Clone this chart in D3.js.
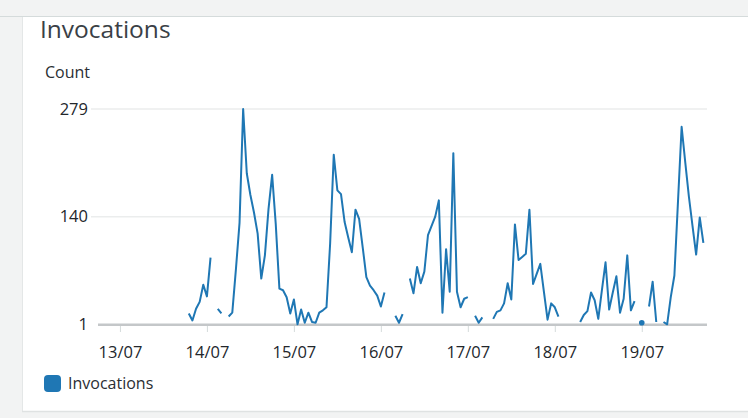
<!DOCTYPE html>
<html>
<head>
<meta charset="utf-8">
<script src="https://cdn.jsdelivr.net/npm/d3@7/dist/d3.min.js"></script>
<style>
  html, body { margin: 0; padding: 0; background: #f2f3f3; }
  svg { display: block; font-family: "Open Sans", "Noto Sans", sans-serif; }
</style>
</head>
<body>
<svg id="chart" width="748" height="418"></svg>
<script>
// Hourly invocation counts, starting 12/07 18:00 (null = no datapoint)
const startTime = Date.UTC(2023, 6, 12, 18);
const endTime = Date.UTC(2023, 6, 19, 18);
const hourlyCounts = [
  null, null, null, null, null, null, null, null, null, null,
  null, null, null, null, null, null, null, null, null, null,
  null, null, null, null, null,
  15, 6, 21, 30, 52, 37, 87,
  null, 21, 15, null,
  11, 16, 72, 132, 279, 196, 168, 145, 118, 60,
  90, 150, 194, 130, 47, 45, 36, 15, 33, 1,
  20, 3, 16, 4, 3, 16, 19, 23, 105, 220,
  174, 169, 133, 113, 94, 149, 137, 100, 62, 51,
  45, 38, 24, 42,
  null, null, 12, 3, 14, null,
  60, 41, 75, 54, 69, 116, 128, 140, 161, 16,
  98, 43, 222, 43, 23, 34, 36,
  null, 12, 3, 10, null, null,
  8, 17, 19, 28, 54, 33, 130, 84, 88, 92,
  149, 53, 66, 79, 43, 7, 28, 23, 11,
  null, null, null, null, null,
  4, 13, 18, 42, 32, 8, 45, 81, 20, 42,
  63, 16, 34, 90, 19, 31,
  null, 3, null,
  24, 56, 4, null,
  4, 1, 36, 64, 160, 256, 210, 166, 128, 91,
  139, 106
];
const yTickValues = [1, 140, 279];
const seriesName = "Invocations";
const unitLabel = "Count";
const lineColor = "#1f77b4";

const HOUR = 3600 * 1000;
const points = hourlyCounts.map((v, i) => ({ t: new Date(startTime + i * HOUR), v }));

const svg = d3.select("#chart");
const W = 748, H = 418;

// Page background and widget card
svg.append("rect").attr("width", W).attr("height", H).attr("fill", "#f2f3f3");
svg.append("line").attr("x1", 0).attr("x2", W).attr("y1", 16.5).attr("y2", 16.5)
  .attr("stroke", "#d5dbdb").attr("stroke-width", 1);
svg.append("rect").attr("x", 22).attr("y", 17).attr("width", W).attr("height", 394)
  .attr("fill", "#ffffff");
svg.append("line").attr("x1", 22.5).attr("x2", 22.5).attr("y1", 17).attr("y2", 411)
  .attr("stroke", "#e4e7e7").attr("stroke-width", 1);
svg.append("line").attr("x1", 22).attr("x2", W).attr("y1", 411.5).attr("y2", 411.5)
  .attr("stroke", "#dfe2e2").attr("stroke-width", 1.5);

// Title and unit
svg.append("text").attr("x", 40).attr("y", 38).attr("font-size", 24.5)
  .attr("fill", "#3a3f46").text(seriesName);
svg.append("text").attr("x", 45).attr("y", 78).attr("font-size", 16)
  .attr("fill", "#2a2e33").text(unitLabel);

// Scales
const x = d3.scaleUtc().domain([startTime, endTime]).range([98.2, 707]);
const y = d3.scaleLinear().domain([1, 279]).range([324.3, 109]);

// Horizontal gridlines
svg.append("g").selectAll("line")
  .data(yTickValues.filter(v => v !== 1))
  .join("line")
  .attr("x1", 91).attr("x2", 707)
  .attr("y1", d => y(d)).attr("y2", d => y(d))
  .attr("stroke", "#ebeded").attr("stroke-width", 1.5);

// Y axis labels
const yAxis = d3.axisLeft(y).tickValues(yTickValues).tickSize(0).tickPadding(0);
svg.append("g").attr("transform", "translate(88,0)").call(yAxis)
  .call(g => g.select(".domain").remove())
  .call(g => g.selectAll("text").attr("font-size", 16.5).attr("fill", "#23272c")
    .attr("font-family", "\"Open Sans\", sans-serif"));

// X axis: baseline, day ticks and labels
const dayTicks = d3.utcDay.range(new Date(startTime), new Date(endTime));
const xAxis = d3.axisBottom(x).tickValues(dayTicks).tickFormat(d3.utcFormat("%d/%m"))
  .tickSize(7).tickPadding(14);
svg.append("g").attr("transform", "translate(0,325)").call(xAxis)
  .call(g => g.select(".domain").remove())
  .call(g => g.selectAll(".tick line").attr("stroke", "#d5dbdb"))
  .call(g => g.selectAll("text").attr("font-size", 16.5).attr("fill", "#23272c")
    .attr("font-family", "\"Open Sans\", sans-serif"));
svg.append("line").attr("x1", 98).attr("x2", 707).attr("y1", y(1) + 0.5).attr("y2", y(1) + 0.5)
  .attr("stroke", "#c4c7c9").attr("stroke-width", 2.5);

// Series line with gaps for missing hours
const line = d3.line()
  .defined(d => d.v !== null)
  .x(d => x(d.t))
  .y(d => y(d.v));
svg.append("path").datum(points)
  .attr("fill", "none").attr("stroke", lineColor).attr("stroke-width", 2)
  .attr("stroke-linejoin", "round").attr("d", line);

// Isolated datapoints are drawn as dots
const isolated = points.filter((d, i) => d.v !== null &&
  (i === 0 || points[i - 1].v === null) &&
  (i === points.length - 1 || points[i + 1].v === null));
svg.append("g").selectAll("circle").data(isolated).join("circle")
  .attr("cx", d => x(d.t)).attr("cy", d => y(d.v)).attr("r", 2.8)
  .attr("fill", lineColor);

// Legend
svg.append("rect").attr("x", 44).attr("y", 375).attr("width", 17).attr("height", 17)
  .attr("rx", 4).attr("fill", lineColor);
svg.append("text").attr("x", 68).attr("y", 389).attr("font-size", 16)
  .attr("fill", "#2a2e33").text(seriesName);
</script>
</body>
</html>
